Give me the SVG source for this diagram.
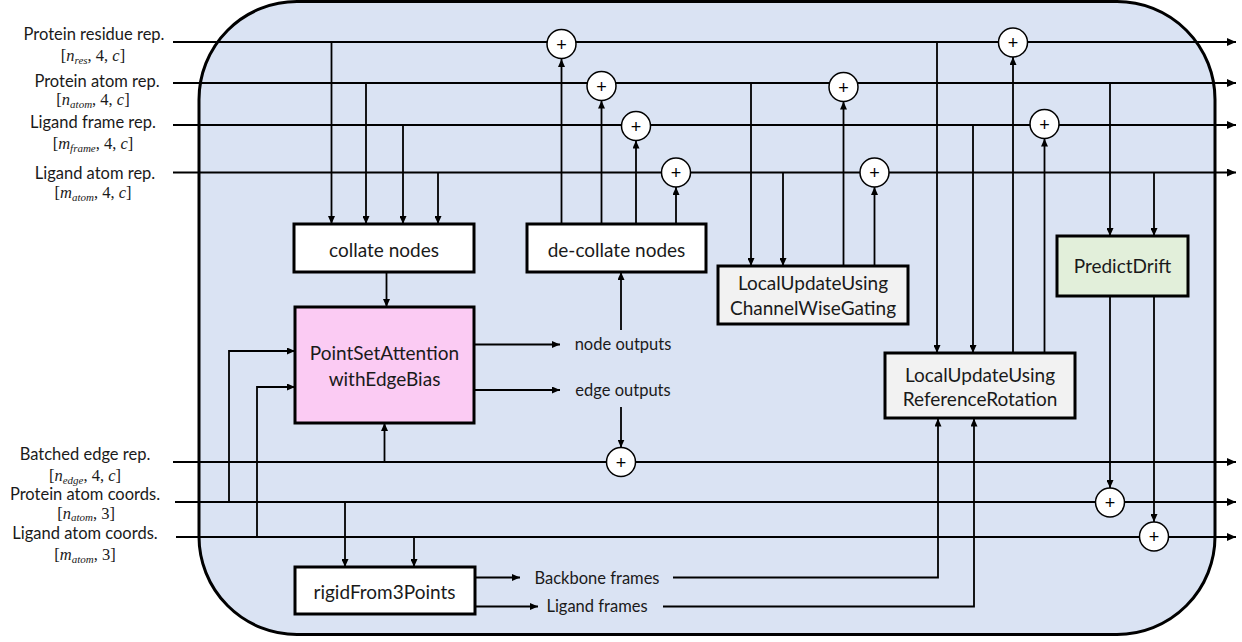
<svg xmlns="http://www.w3.org/2000/svg" width="1242" height="642" viewBox="0 0 1242 642">
<style>
.lbl{font-family:Lato,"Liberation Sans",sans-serif;font-size:16.5px;fill:#1a1a1a;text-anchor:middle}
.mth{font-family:"Liberation Serif","DejaVu Serif",serif;font-size:16.5px;fill:#1a1a1a;text-anchor:middle}
.it{font-style:italic}
.sub{font-style:italic;font-size:11px}
.btxt{font-family:Lato,"Liberation Sans",sans-serif;font-size:19px;fill:#1a1a1a;text-anchor:middle}
.box{stroke:#000;stroke-width:3}
.ln{fill:none;stroke:#000;stroke-width:2}
.ln2{fill:none;stroke:#000;stroke-width:1.8}
.add circle{fill:#fff;stroke:#000;stroke-width:1.5}
.add text{font-family:"Liberation Sans",sans-serif;font-size:18px;text-anchor:middle;fill:#000}
</style>
<defs>
<marker id="a" viewBox="0 0 8 7" refX="8" refY="3.5" markerWidth="8" markerHeight="7" markerUnits="userSpaceOnUse" orient="auto"><path d="M0,0 L8,3.5 L0,7 z" fill="#000"/></marker>
<marker id="b" viewBox="0 0 9 8" refX="9" refY="4" markerWidth="9" markerHeight="8" markerUnits="userSpaceOnUse" orient="auto"><path d="M0,0 L9,4 L0,8 z" fill="#000"/></marker>
</defs>

<g id="container"><rect x="199" y="1.5" width="1016" height="633" rx="98" ry="98" fill="#dae3f3" stroke="#000" stroke-width="3"/></g>

<g id="input-labels">
<text class="lbl" x="94" y="40">Protein residue rep.</text>
<text class="mth" x="93" y="61">[<tspan class="it">n</tspan><tspan class="sub" dy="3">res</tspan><tspan dy="-3">, 4, </tspan><tspan class="it">c</tspan>]</text>
<text class="lbl" x="97" y="87">Protein atom rep.</text>
<text class="mth" x="93" y="105">[<tspan class="it">n</tspan><tspan class="sub" dy="3">atom</tspan><tspan dy="-3">, 4, </tspan><tspan class="it">c</tspan>]</text>
<text class="lbl" x="93" y="128">Ligand frame rep.</text>
<text class="mth" x="93" y="149">[<tspan class="it">m</tspan><tspan class="sub" dy="3">frame</tspan><tspan dy="-3">, 4, </tspan><tspan class="it">c</tspan>]</text>
<text class="lbl" x="95" y="179">Ligand atom rep.</text>
<text class="mth" x="93" y="198">[<tspan class="it">m</tspan><tspan class="sub" dy="3">atom</tspan><tspan dy="-3">, 4, </tspan><tspan class="it">c</tspan>]</text>
<text class="lbl" x="85" y="460">Batched edge rep.</text>
<text class="mth" x="85" y="481">[<tspan class="it">n</tspan><tspan class="sub" dy="3">edge</tspan><tspan dy="-3">, 4, </tspan><tspan class="it">c</tspan>]</text>
<text class="lbl" x="85" y="500">Protein atom coords.</text>
<text class="mth" x="86" y="519">[<tspan class="it">n</tspan><tspan class="sub" dy="2">atom</tspan><tspan dy="-2">, 3]</tspan></text>
<text class="lbl" x="85" y="539">Ligand atom coords.</text>
<text class="mth" x="85" y="560">[<tspan class="it">m</tspan><tspan class="sub" dy="3">atom</tspan><tspan dy="-3">, 3]</tspan></text>
</g>

<g id="connectors">
<path class="ln" d="M173,42 H1236" marker-end="url(#b)"/>
<path class="ln" d="M173,83 H1236" marker-end="url(#b)"/>
<path class="ln" d="M173,125 H1236" marker-end="url(#b)"/>
<path class="ln" d="M173,172.5 H1236" marker-end="url(#b)"/>
<path class="ln" d="M173,462 H1236" marker-end="url(#b)"/>
<path class="ln" d="M175,502 H1236" marker-end="url(#b)"/>
<path class="ln" d="M176,537 H1236" marker-end="url(#b)"/>
<path class="ln2" d="M331.5,42 V224" marker-end="url(#a)"/>
<path class="ln2" d="M366,83 V224" marker-end="url(#a)"/>
<path class="ln2" d="M403,125 V224" marker-end="url(#a)"/>
<path class="ln2" d="M438,172.5 V224" marker-end="url(#a)"/>
<path class="ln2" d="M386.5,272 V307" marker-end="url(#a)"/>
<path class="ln2" d="M561.5,224 V59" marker-end="url(#a)"/>
<path class="ln2" d="M601.5,224 V100.5" marker-end="url(#a)"/>
<path class="ln2" d="M636,224 V140.5" marker-end="url(#a)"/>
<path class="ln2" d="M676,224 V187" marker-end="url(#a)"/>
<path class="ln2" d="M229,502 V351 H295" marker-end="url(#a)"/>
<path class="ln2" d="M257,537 V387 H295" marker-end="url(#a)"/>
<path class="ln2" d="M384.5,462 V423" marker-end="url(#a)"/>
<path class="ln2" d="M474,344.5 H560" marker-end="url(#a)"/>
<path class="ln2" d="M474,390 H560" marker-end="url(#a)"/>
<path class="ln2" d="M621,330 V272" marker-end="url(#a)"/>
<path class="ln2" d="M621,407 V447.5" marker-end="url(#a)"/>
<path class="ln2" d="M345,502 V567" marker-end="url(#a)"/>
<path class="ln2" d="M414,537 V567" marker-end="url(#a)"/>
<path class="ln2" d="M475,577.5 H520" marker-end="url(#a)"/>
<path class="ln2" d="M475,606.5 H538" marker-end="url(#a)"/>
<path class="ln2" d="M673,577.5 H938 V418.5" marker-end="url(#a)"/>
<path class="ln2" d="M663,606.5 H974 V418.5" marker-end="url(#a)"/>
<path class="ln2" d="M751,83 V266" marker-end="url(#a)"/>
<path class="ln2" d="M783,172.5 V266" marker-end="url(#a)"/>
<path class="ln2" d="M843.5,266 V101.5" marker-end="url(#a)"/>
<path class="ln2" d="M874.5,266 V187" marker-end="url(#a)"/>
<path class="ln2" d="M937,42 V353" marker-end="url(#a)"/>
<path class="ln2" d="M973,125 V353" marker-end="url(#a)"/>
<path class="ln2" d="M1013,353 V57" marker-end="url(#a)"/>
<path class="ln2" d="M1044.5,353 V138.5" marker-end="url(#a)"/>
<path class="ln2" d="M1110,83 V236" marker-end="url(#a)"/>
<path class="ln2" d="M1154,172.5 V236" marker-end="url(#a)"/>
<path class="ln2" d="M1110,296 V488" marker-end="url(#a)"/>
<path class="ln2" d="M1154,296 V522" marker-end="url(#a)"/>
</g>

<g id="collate-nodes"><rect class="box" x="294" y="224" width="180" height="48" fill="#fff"/><text class="btxt" x="384" y="256.5">collate nodes</text></g>
<g id="de-collate-nodes"><rect class="box" x="527" y="224" width="179" height="48" fill="#fff"/><text class="btxt" x="616.5" y="256.5">de-collate nodes</text></g>
<g id="point-set-attention"><rect class="box" x="295" y="307" width="179" height="116" fill="#fbcbf3"/><text class="btxt" x="384.5" y="359.5">PointSetAttention</text><text class="btxt" x="384.5" y="385.5">withEdgeBias</text></g>
<g id="channel-wise-gating"><rect class="box" x="718" y="266" width="190" height="58" fill="#f2f2f2"/><text class="btxt" x="813" y="289.5">LocalUpdateUsing</text><text class="btxt" x="813" y="314.5">ChannelWiseGating</text></g>
<g id="reference-rotation"><rect class="box" x="885" y="353" width="190" height="65" fill="#f2f2f2"/><text class="btxt" x="980" y="381.5">LocalUpdateUsing</text><text class="btxt" x="980" y="405.5">ReferenceRotation</text></g>
<g id="predict-drift"><rect class="box" x="1057" y="236" width="131" height="60" fill="#e2efda"/><text class="btxt" x="1122.5" y="273">PredictDrift</text></g>
<g id="rigid-from-3-points"><rect class="box" x="295" y="567" width="180" height="47" fill="#fff"/><text class="btxt" x="384.5" y="599">rigidFrom3Points</text></g>

<g id="output-labels">
<text class="lbl" x="623" y="350">node outputs</text>
<text class="lbl" x="623" y="395.5">edge outputs</text>
<text class="lbl" x="597" y="583.5">Backbone frames</text>
<text class="lbl" x="597" y="612">Ligand frames</text>
</g>

<g id="add-res-1" class="add"><circle cx="561.5" cy="44" r="14.5"/><text x="561.5" y="50.5">+</text></g>
<g id="add-patom-1" class="add"><circle cx="601.5" cy="86" r="14.5"/><text x="601.5" y="92.5">+</text></g>
<g id="add-lframe-1" class="add"><circle cx="636" cy="126" r="14.5"/><text x="636" y="132.5">+</text></g>
<g id="add-latom-1" class="add"><circle cx="676" cy="172.5" r="14.5"/><text x="676" y="179">+</text></g>
<g id="add-patom-2" class="add"><circle cx="843.5" cy="87" r="14.5"/><text x="843.5" y="93.5">+</text></g>
<g id="add-latom-2" class="add"><circle cx="874.5" cy="172.5" r="14.5"/><text x="874.5" y="179">+</text></g>
<g id="add-res-2" class="add"><circle cx="1013" cy="42.5" r="14.5"/><text x="1013" y="49">+</text></g>
<g id="add-lframe-2" class="add"><circle cx="1044.5" cy="124" r="14.5"/><text x="1044.5" y="130.5">+</text></g>
<g id="add-edge" class="add"><circle cx="621" cy="462" r="14.5"/><text x="621" y="468.5">+</text></g>
<g id="add-pcoords" class="add"><circle cx="1110" cy="502.5" r="14.5"/><text x="1110" y="509">+</text></g>
<g id="add-lcoords" class="add"><circle cx="1154" cy="536.5" r="14.5"/><text x="1154" y="543">+</text></g>
</svg>
